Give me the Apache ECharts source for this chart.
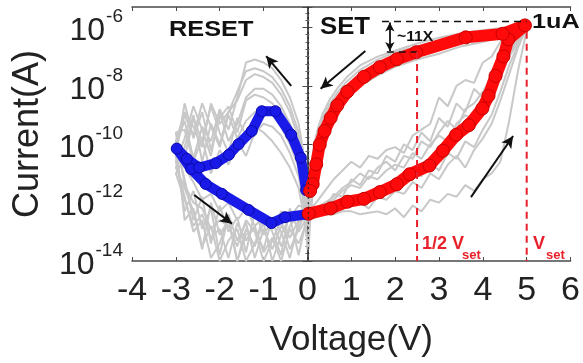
<!DOCTYPE html>
<html><head><meta charset="utf-8">
<script src="https://cdn.jsdelivr.net/npm/echarts@6/dist/echarts.min.js"></script>
<style>html,body{margin:0;padding:0;background:#fff}#c{width:583px;height:363px}</style>
</head><body><div id="c"></div>
<script>
// ---------- data (current stored as log10(I / A)) ----------
const xTickLabels = ['-4','-3','-2','-1','0','1','2','3','4','5','6'];
const yTickExps = [-14, -12, -10, -8, -6];

// highlighted SET sweep (red): 0 V -> 5 V (HRS) -> 0 V (LRS)
const setV    = [0.03, 0.53, 0.91, 1.29, 1.65, 2.04, 2.33, 2.78, 3.09, 3.39, 3.68, 3.99, 4.13, 4.29, 4.47, 4.58, 4.96, 4.45, 3.61, 2.48, 2.04, 1.65, 1.29, 0.91, 0.68, 0.53, 0.39, 0.28, 0.20, 0.12, 0.06];
const setLogI = [-12.38, -12.2, -11.97, -11.87, -11.64, -11.37, -11.03, -10.73, -10.22, -9.68, -9.35, -8.77, -8.34, -7.66, -6.99, -6.41, -5.93, -6.22, -6.34, -6.85, -7.09, -7.36, -7.69, -8.2, -8.67, -9.1, -9.55, -10.02, -10.69, -11.37, -11.6];

// highlighted RESET sweep (blue)
const resetV    = [0, -0.51, -0.82, -1.34, -1.95, -2.32, -2.65, -2.98, -2.75, -2.47, -2.09, -1.79, -1.57, -1.27, -1.04, -0.73, -0.37, -0.15, -0.03];
const resetLogI = [-12.4, -12.5, -12.7, -12.25, -11.7, -11.36, -10.85, -10.15, -10.5, -10.8, -10.65, -10.36, -10.0, -9.55, -8.87, -8.87, -9.68, -10.46, -11.57];

// grey cycles: SET low-current branch (0 -> 5 V)
const graySetLowV = [0,0.2,0.4,0.6,0.8,1.0,1.2,1.4,1.6,1.8,2.0,2.2,2.4,2.6,2.8,3.0,3.2,3.4,3.6,3.8,4.0,4.2,4.4,4.6,4.8,5.0];
const graySetLow1 = [-12.3,-12.0,-11.6,-11.2,-10.9,-10.6,-10.8,-10.4,-10.5,-10.2,-10.1,-10.3,-9.7,-9.5,-9.3,-8.4,-8.7,-8.0,-7.8,-7.9,-7.2,-7.0,-6.5,-6.3,-6.1,-5.95];
const graySetLow2 = [-12.4,-12.2,-12.0,-11.8,-11.5,-11.3,-11.0,-11.2,-10.8,-10.6,-10.9,-10.4,-10.5,-9.9,-10.1,-9.6,-9.2,-9.5,-8.8,-8.6,-8.2,-7.7,-7.4,-6.8,-6.3,-6.0];
const graySetLow3 = [-12.5,-12.4,-12.3,-12.2,-12.2,-12.1,-12.0,-12.2,-11.8,-11.9,-11.6,-11.7,-11.3,-11.5,-11.0,-11.2,-10.7,-10.4,-10.8,-10.2,-9.8,-9.3,-8.5,-7.6,-6.7,-6.0];
const graySetLow4 = [-12.6,-12.5,-12.4,-12.4,-12.3,-12.3,-12.4,-12.35,-12.3,-12.4,-12.2,-12.5,-12.1,-12.3,-11.9,-12.0,-11.7,-11.8,-11.4,-11.6,-11.2,-11.0,-10.6,-9.2,-7.5,-6.1];
const graySetLow5 = [-12.4,-12.3,-12.1,-11.9,-11.6,-11.4,-11.5,-11.1,-11.2,-10.9,-10.7,-10.8,-10.3,-10.5,-10.0,-9.7,-9.9,-9.3,-9.0,-9.2,-8.5,-8.1,-7.6,-7.0,-6.5,-6.0];
const graySetLow6 = [-12.5,-12.3,-12.2,-11.7,-11.8,-11.2,-11.4,-10.9,-11.0,-10.4,-10.6,-10.0,-10.2,-9.6,-9.9,-9.1,-9.4,-8.6,-8.9,-8.1,-8.4,-7.5,-7.8,-6.9,-6.4,-6.0];
const graySetLow7 = [-12.5,-12.4,-12.2,-12.1,-11.9,-12.0,-11.7,-11.9,-11.5,-11.6,-11.2,-11.4,-11.0,-11.1,-10.6,-10.9,-10.3,-10.5,-9.9,-10.1,-9.5,-9.0,-8.2,-7.3,-6.6,-6.05];

// grey cycles: SET high-current branch (5 V -> 0)
const graySetUpV = [5, 4.5, 4.0, 3.5, 3.0, 2.5, 2.0, 1.6, 1.2, 0.9, 0.7, 0.5, 0.35, 0.25, 0.15, 0.08, 0.03];
const graySetUp1 = [-5.9,-6.05,-6.15,-6.25,-6.45,-6.65,-6.85,-7.1,-7.45,-7.85,-8.2,-8.65,-9.1,-9.6,-10.3,-11.2,-12.5];
const graySetUp2 = [-5.95,-6.1,-6.2,-6.35,-6.55,-6.75,-7.0,-7.25,-7.6,-8.0,-8.4,-8.9,-9.4,-9.9,-10.6,-11.6,-13.2];
const graySetUp3 = [-6.0,-6.25,-6.4,-6.55,-6.75,-7.0,-7.25,-7.5,-7.85,-8.3,-8.75,-9.25,-9.8,-10.3,-11.0,-12.0,-13.6];
const graySetUp4 = [-6.0,-6.3,-6.5,-6.65,-6.9,-7.1,-7.35,-7.65,-8.0,-8.45,-8.9,-9.4,-9.95,-10.5,-11.3,-12.3,-13.0];
const graySetUp5 = [-5.95,-6.0,-6.1,-6.2,-6.35,-6.55,-6.8,-7.0,-7.3,-7.7,-8.05,-8.5,-8.95,-9.4,-10.0,-10.8,-12.0];

// grey cycles: RESET (0 -> -3 V -> 0)
const grayResetV = [0,-0.2,-0.4,-0.6,-0.8,-1.0,-1.2,-1.4,-1.6,-1.8,-2.0,-2.2,-2.4,-2.6,-2.8,-3.0,
                    -2.8,-2.6,-2.4,-2.2,-2.0,-1.8,-1.6,-1.4,-1.2,-1.0,-0.8,-0.6,-0.4,-0.2,-0.1,0];
const grayReset1 = [-12.3,-12.6,-13.2,-12.8,-13.6,-12.9,-13.9,-12.7,-13.3,-12.4,-13.8,-12.2,-12.9,-11.6,-12.3,-10.4,
                    -8.6,-9.8,-8.9,-10.2,-9.1,-8.7,-9.6,-8.5,-8.3,-8.4,-8.6,-9.0,-9.6,-10.4,-11.0,-11.8];
const grayReset2 = [-12.0,-12.4,-12.8,-13.5,-12.6,-13.1,-12.3,-13.7,-12.5,-13.0,-12.1,-13.4,-11.8,-12.6,-11.2,-10.0,
                    -9.2,-10.5,-9.4,-9.9,-8.8,-9.5,-8.4,-7.2,-7.1,-7.2,-7.4,-7.8,-8.4,-9.3,-10.2,-11.5];
const grayReset3 = [-12.5,-13.0,-12.2,-13.8,-13.0,-12.4,-13.5,-12.9,-14.0,-12.6,-13.1,-12.0,-13.6,-12.3,-11.5,-10.8,
                    -10.1,-9.0,-10.6,-9.3,-10.0,-8.9,-8.5,-7.8,-7.6,-7.7,-7.9,-8.3,-8.9,-9.8,-10.6,-12.0];
const grayReset4 = [-12.2,-12.1,-12.5,-12.3,-12.9,-12.5,-12.8,-12.2,-12.6,-12.0,-12.3,-11.7,-11.9,-11.3,-10.8,-10.2,
                    -9.0,-9.7,-8.6,-9.4,-10.1,-9.0,-9.8,-9.2,-8.9,-8.8,-9.0,-9.4,-10.0,-10.8,-11.6,-12.5];
const grayReset5 = [-12.6,-13.4,-12.9,-14.0,-13.2,-13.7,-12.8,-13.3,-12.7,-13.9,-12.9,-13.2,-12.4,-12.8,-11.9,-11.0,
                    -10.5,-9.1,-9.9,-8.7,-9.6,-10.3,-9.1,-9.7,-9.4,-9.6,-9.9,-10.3,-10.8,-11.5,-12.3,-13.3];
const grayReset6 = [-12.1,-12.9,-13.6,-12.6,-13.3,-14.0,-13.0,-12.6,-13.5,-12.8,-12.6,-12.9,-12.2,-12.0,-11.4,-9.6,
                    -9.5,-10.6,-9.8,-11.0,-10.2,-10.7,-9.9,-10.4,-9.6,-9.3,-9.4,-9.7,-10.3,-11.1,-11.9,-12.8];
const grayReset7 = [-12.4,-13.8,-12.5,-13.1,-14.0,-12.7,-13.4,-14.0,-12.9,-13.3,-14.0,-12.8,-13.5,-12.2,-12.6,-9.9,
                    -8.9,-9.4,-10.1,-8.6,-9.3,-8.9,-8.2,-7.5,-7.4,-7.5,-7.7,-8.1,-8.7,-9.6,-10.5,-12.2];
const grayReset8 = [-12.3,-12.7,-13.9,-13.0,-12.5,-13.6,-12.9,-13.1,-14.0,-12.5,-13.4,-13.9,-12.6,-13.0,-11.8,-10.6,
                    -9.8,-8.7,-9.5,-10.4,-8.9,-9.9,-9.3,-8.4,-8.1,-8.1,-8.3,-8.7,-9.3,-10.1,-10.9,-13.6];

// annotations (data coordinates)
const dashTopV = [1.7, 5.0], dashTopLogI = [-5.8, -5.8];
const dashMidV = [1.81, 2.5], dashMidLogI = [-6.84, -6.84];
const vHalfSetLine = [[2.5, -6.84], [2.5, -14]];
const vSetLine = [[5.0, -6.15], [5.0, -14]];
const zeroLine = [[0.02, -5.3], [0.02, -14]];
const arrows = [[-0.37,-8.0,-0.94,-6.98],[1.32,-6.81,0.30,-8.1],[-2.58,-11.74,-1.72,-12.72],[3.73,-11.81,4.69,-9.72]];
const ratioArrow = [1.88, -5.83, 1.88, -6.81];

// ---------- chart ----------
const FONT = 'Liberation Sans, Arial, sans-serif';
const zip = (xs, ys) => xs.map((x, i) => [x, ys[i]]);
const chart = echarts.init(document.getElementById('c'), null, {renderer: 'canvas'});

const gray = (xs, ys) => ({type: 'line', data: zip(xs, ys), symbol: 'none', silent: true,
  lineStyle: {color: '#c8c8c8', width: 2}, z: 1});

const series = [];
[graySetLow1, graySetLow2, graySetLow3, graySetLow4, graySetLow5, graySetLow6, graySetLow7].forEach(a => series.push(gray(graySetLowV, a)));
[graySetUp1, graySetUp2, graySetUp3, graySetUp4, graySetUp5].forEach(a => series.push(gray(graySetUpV, a)));
[grayReset1, grayReset2, grayReset3, grayReset4, grayReset5, grayReset6, grayReset7, grayReset8].forEach(a => series.push(gray(grayResetV, a)));

series.push({type: 'line', data: zip(resetV, resetLogI), symbol: 'circle', symbolSize: 11,
  itemStyle: {color: '#1a1ae8', borderColor: '#0a0aa8', borderWidth: 1},
  lineStyle: {color: '#1a1ae8', width: 10, join: 'round', cap: 'round'}, z: 3, silent: true});
series.push({type: 'line', data: zip(setV, setLogI), symbol: 'circle', symbolSize: 13,
  itemStyle: {color: '#ff0a0a', borderColor: '#c80000', borderWidth: 1},
  lineStyle: {color: '#ff0a0a', width: 12, join: 'round', cap: 'round'}, z: 4, silent: true});

const dashed = (data, color, type, width) => ({type: 'line', data, symbol: 'none', silent: true,
  lineStyle: {color, width, type}, z: 5});
series.push(dashed(zip(dashTopV, dashTopLogI), '#111', [7, 5], 1.5));
series.push(dashed(zip(dashMidV, dashMidLogI), '#111', [7, 5], 1.5));
series.push(dashed(vHalfSetLine, '#e8202a', [7, 5], 2));
series.push(dashed(vSetLine, '#e8202a', [7, 5], 2));
series.push(dashed(zeroLine, '#222', [2, 3], 1));

series.push({type: 'line', data: [], silent: true, z: 6,
  markLine: {silent: true, animation: false, symbol: ['none', 'arrow'], symbolSize: [9, 12],
    label: {show: false}, lineStyle: {color: '#111', width: 2, type: 'solid'},
    data: arrows.map(a => [{coord: [a[0], a[1]]}, {coord: [a[2], a[3]]}])}});
series.push({type: 'line', data: [], silent: true, z: 6,
  markLine: {silent: true, animation: false, symbol: ['arrow', 'arrow'], symbolSize: [7, 9],
    label: {show: false}, lineStyle: {color: '#111', width: 1.8, type: 'solid'},
    data: [[{coord: [ratioArrow[0], ratioArrow[1]]}, {coord: [ratioArrow[2], ratioArrow[3]]}]]}});

const axisLine = {show: true, lineStyle: {color: '#4a4a4a', width: 1.5}};
chart.setOption({
  animation: false,
  backgroundColor: '#fff',
  grid: {left: 132, right: 7, top: 7, bottom: 98},
  xAxis: [
    {type: 'value', min: -4, max: 6, interval: 1, position: 'bottom',
     axisLine, axisTick: {inside: true, length: 4, lineStyle: {color: '#4a4a4a'}},
     splitLine: {show: false},
     axisLabel: {fontSize: 34, fontFamily: FONT, color: '#222', margin: 13,
       formatter: v => xTickLabels[Math.round(v + 4)]},
     name: 'Voltage(V)', nameLocation: 'middle', nameGap: 62,
     nameTextStyle: {fontSize: 35, fontFamily: FONT, color: '#222'}},
    {type: 'value', min: -4, max: 6, interval: 1, position: 'top',
     axisLine, axisTick: {inside: true, length: 4, lineStyle: {color: '#4a4a4a'}},
     axisLabel: {show: false}, splitLine: {show: false}}
  ],
  yAxis: [
    {type: 'value', min: -14, max: -5.3, interval: 2, position: 'left',
     axisLine, axisTick: {inside: true, length: 5, lineStyle: {color: '#4a4a4a'}},
     minorTick: {show: true, splitNumber: 8, length: 2, lineStyle: {color: '#666'}},
     splitLine: {show: false},
     axisLabel: {margin: 9, showMaxLabel: false,
       formatter: v => yTickExps.indexOf(Math.round(v)) >= 0 && Math.abs(v - Math.round(v)) < 1e-6 ? '{b|10}{s|' + Math.round(v) + '}' : '',
       rich: {
         b: {fontSize: 32, fontFamily: FONT, color: '#222', lineHeight: 40, verticalAlign: 'bottom'},
         s: {fontSize: 19, fontFamily: FONT, color: '#222', lineHeight: 40, verticalAlign: 'top', padding: [0, 0, 0, 1]}
       }},
     name: 'Current(A)', nameLocation: 'middle', nameGap: 86, nameRotate: 90,
     nameTextStyle: {fontSize: 36, fontFamily: FONT, color: '#222'}},
    {type: 'value', min: -14, max: -5.3, interval: 2, position: 'right',
     axisLine, axisTick: {inside: true, length: 5, lineStyle: {color: '#4a4a4a'}},
     minorTick: {show: true, splitNumber: 8, length: 2, lineStyle: {color: '#666'}},
     axisLabel: {show: false}, splitLine: {show: false}}
  ],
  series,
  graphic: [
    {type: 'text', x: 169, y: 19, scaleX: 1.15, style: {text: 'RESET', fontSize: 22, fontWeight: 'bold', fontFamily: FONT, fill: '#111'}, z: 10},
    {type: 'text', x: 320, y: 16, scaleX: 1.12, style: {text: 'SET', fontSize: 23, fontWeight: 'bold', fontFamily: FONT, fill: '#111'}, z: 10},
    {type: 'text', x: 532, y: 12, scaleX: 1.2, style: {text: '1uA', fontSize: 21, fontWeight: 'bold', fontFamily: FONT, fill: '#111'}, z: 10},
    {type: 'text', x: 397, y: 29, scaleX: 1.05, style: {text: '~11X', fontSize: 15, fontWeight: 'bold', fontFamily: FONT, fill: '#111'}, z: 10},
    {type: 'text', x: 422, y: 235, style: {text: '1/2 V', fontSize: 18, fontWeight: 'bold', fontFamily: FONT, fill: '#e8202a'}, z: 10},
    {type: 'text', x: 462, y: 249, style: {text: 'set', fontSize: 13, fontWeight: 'bold', fontFamily: FONT, fill: '#e8202a'}, z: 10},
    {type: 'text', x: 533, y: 235, style: {text: 'V', fontSize: 18, fontWeight: 'bold', fontFamily: FONT, fill: '#e8202a'}, z: 10},
    {type: 'text', x: 546, y: 249, style: {text: 'set', fontSize: 13, fontWeight: 'bold', fontFamily: FONT, fill: '#e8202a'}, z: 10}
  ]
});
</script></body></html>
